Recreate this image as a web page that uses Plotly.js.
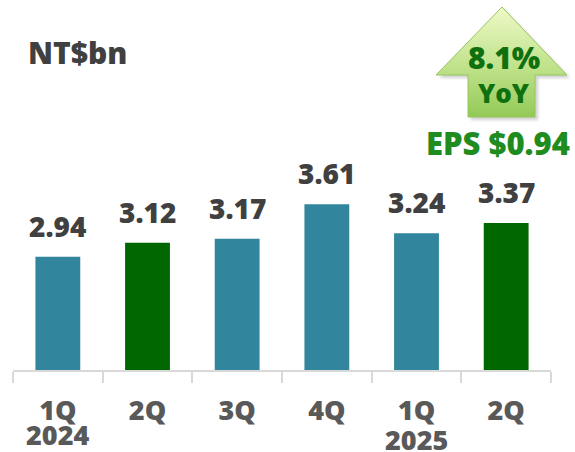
<!DOCTYPE html>
<html>
<head>
<meta charset="utf-8">
<script src="https://cdn.plot.ly/plotly-3.0.1.min.js"></script>
<style>
  html, body { margin: 0; padding: 0; background: #ffffff; }
  #chart { width: 575px; height: 452px; }
</style>
</head>
<body>
<div id="chart"></div>
<script>
// ---- data ----
const quarters = ["1Q", "2Q", "3Q", "4Q", "1Q", "2Q"];
const years = ["2024", "", "", "", "2025", ""];
const periods = ["1Q 2024", "2Q 2024", "3Q 2024", "4Q 2024", "1Q 2025", "2Q 2025"];
const netIncome = [2.94, 3.12, 3.17, 3.61, 3.24, 3.37];
const unitLabel = "NT$bn";
const yoyLabel = "8.1%";
const yoyText = "YoY";
const epsLabel = "EPS $0.94";

// ---- styling ----
const TEAL = "#31859c";
const GREEN = "#006600";
const barColors = [TEAL, GREEN, TEAL, TEAL, TEAL, GREEN];
const FONT = "'Open Sans', 'Noto Sans', sans-serif";
const WEIGHT = 800;

const W = 575, H = 452;
const M = { l: 13, r: 24, t: 0, b: 82 };
const PW = W - M.l - M.r, PH = H - M.t - M.b;
const px = (x) => (x - M.l) / PW;
const py = (y) => (H - M.b - y) / PH;

// arrow decoration as SVG image (gradient fill)
const arrowSvg =
  `<svg xmlns="http://www.w3.org/2000/svg" width="${W}" height="${H}" viewBox="0 0 ${W} ${H}">` +
  `<defs><linearGradient id="g" x1="0" y1="0" x2="0" y2="1">` +
  `<stop offset="0" stop-color="#eefac8"/><stop offset="0.55" stop-color="#bfe28a"/>` +
  `<stop offset="1" stop-color="#93c957"/></linearGradient>` +
  `<filter id="s" x="-20%" y="-20%" width="140%" height="140%"><feGaussianBlur stdDeviation="1.5"/></filter></defs>` +
  `<path d="M504 10 L570 78 L538 78 L538 120 L471 120 L471 78 L439 78 Z" fill="#9a9a9a" opacity="0.45" filter="url(#s)"/>` +
  `<path d="M502 7 L567 75 L535 75 L535 117 L468 117 L468 75 L436 75 Z" fill="url(#g)" stroke="#98c45e" stroke-width="1"/>` +
  `</svg>`;

const data = [{
  type: "bar",
  x: periods,
  y: netIncome,
  marker: { color: barColors, line: { width: 0 } },
  hoverinfo: "skip",
  showlegend: false
}];

const annotations = [];
// value labels
netIncome.forEach((v, i) => {
  annotations.push({
    x: periods[i], y: v, xref: "x", yref: "y",
    text: v.toFixed(2), showarrow: false,
    xanchor: "center", yanchor: "bottom", yshift: 10,
    font: { family: FONT, size: 28, color: "#404040", weight: WEIGHT }
  });
});
// year labels (second line of category labels)
years.forEach((yr, i) => {
  if (!yr) return;
  annotations.push({
    x: periods[i], y: 0, xref: "x", yref: "paper",
    text: yr, showarrow: false,
    xanchor: "center", yanchor: "middle", yshift: i === 0 ? -64 : -69,
    font: { family: FONT, size: 27, color: "#595959", weight: WEIGHT }
  });
});
// unit
annotations.push({
  x: px(26), y: py(53), xref: "paper", yref: "paper",
  text: unitLabel, showarrow: false, xanchor: "left", yanchor: "middle",
  font: { family: FONT, size: 30, color: "#404040", weight: WEIGHT }
});
// arrow texts
annotations.push({
  x: px(504), y: py(58), xref: "paper", yref: "paper",
  text: yoyLabel, showarrow: false, xanchor: "center", yanchor: "middle",
  font: { family: FONT, size: 30, color: "#0f700f", weight: WEIGHT }
});
annotations.push({
  x: px(504), y: py(93), xref: "paper", yref: "paper",
  text: yoyText, showarrow: false, xanchor: "center", yanchor: "middle",
  font: { family: FONT, size: 26, color: "#0f700f", weight: WEIGHT }
});
// EPS
annotations.push({
  x: px(498), y: py(143), xref: "paper", yref: "paper",
  text: epsLabel, showarrow: false, xanchor: "center", yanchor: "middle",
  font: { family: FONT, size: 31, color: "#1e8c1e", weight: WEIGHT }
});

const layout = {
  width: W, height: H,
  margin: M,
  paper_bgcolor: "#ffffff",
  plot_bgcolor: "rgba(0,0,0,0)",
  bargap: 0.5,
  xaxis: {
    type: "category",
    tickmode: "array",
    tickvals: periods,
    ticktext: quarters,
    tickson: "boundaries",
    ticks: "outside",
    ticklen: 11,
    tickwidth: 2,
    tickcolor: "#d9d9d9",
    showline: true,
    linecolor: "#d9d9d9",
    linewidth: 2,
    showgrid: false,
    zeroline: false,
    ticklabelstandoff: 16,
    tickfont: { family: FONT, size: 27, color: "#595959", weight: WEIGHT },
    fixedrange: true
  },
  yaxis: {
    range: [1.5, 1.5 + PH / 78.6],
    visible: false,
    showgrid: false,
    zeroline: false,
    fixedrange: true
  },
  images: [{
    source: "data:image/svg+xml;charset=utf-8," + encodeURIComponent(arrowSvg),
    xref: "paper", yref: "paper",
    x: px(0), y: py(0),
    sizex: W / PW, sizey: H / PH,
    sizing: "stretch",
    xanchor: "left", yanchor: "top",
    layer: "above"
  }],
  annotations: annotations,
  showlegend: false
};

Plotly.newPlot("chart", data, layout, { displayModeBar: false, staticPlot: true });
</script>
</body>
</html>
